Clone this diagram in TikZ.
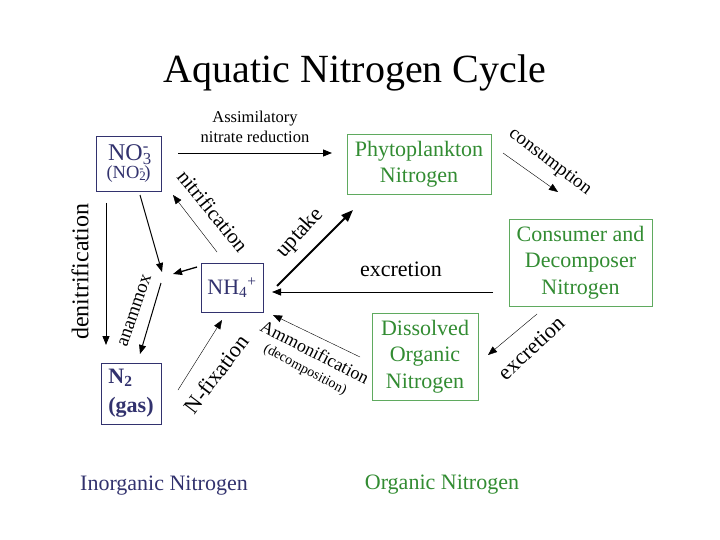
\documentclass[tikz,border=0pt]{standalone}
\usepackage{fontspec}
\setmainfont{Liberation Serif}
\usetikzlibrary{arrows.meta}
\definecolor{navy}{RGB}{50,50,110}
\definecolor{grtext}{RGB}{50,140,50}
\definecolor{grline}{RGB}{95,170,95}
\newcommand{\fsz}[2]{\fontsize{#1}{#2}\selectfont}
\begin{document}
\begin{tikzpicture}[x=1pt,y=-1pt,
  inbox/.style={draw=navy, line width=0.8pt, text=navy, inner sep=0pt, align=center},
  orgbox/.style={draw=grline, line width=0.8pt, text=grtext, inner sep=0pt, align=center, font=\fsz{22}{26.5}},
  flow/.style={-{Triangle[length=9pt,width=7pt]}, line width=0.8pt},
  thinflow/.style={-{Triangle[length=9pt,width=7pt]}, line width=0.4pt},
  lbl/.style={inner sep=0pt, font=\fsz{22}{26}}
]
\useasboundingbox[fill=white] (0,0) rectangle (720,540);

% title
\node[anchor=base, inner sep=0pt, font=\fsz{40}{44}] (title) at (355,83) {Aquatic Nitrogen Cycle};

% boxes
\node[inbox, minimum width=65pt, minimum height=55pt] (no3) at (128.5,163.5)
  {{\fsz{24}{23}NO\rlap{\textsubscript{3}}\textsuperscript{-}\hspace{3pt}}\\{\fsz{18.5}{20}(NO\rlap{\textsubscript{2}}\textsuperscript{-})\hspace{3pt}}};
\node[inbox, minimum width=62pt, minimum height=49pt, font=\fsz{22}{26}] (nh4) at (232,287.5)
  {NH\textsubscript{4}\textsuperscript{+}};
\node[inbox, minimum width=60pt, minimum height=61pt, align=left, font=\fsz{22}{29}\bfseries] (n2) at (131,393.5)
  {N\textsubscript{2}\\(gas)};
\node[orgbox, minimum width=144pt, minimum height=60pt] (phy) at (419,164) {Phytoplankton\\Nitrogen};
\node[orgbox, minimum width=143pt, minimum height=87pt] (cons) at (580.5,262.5) {Consumer and\\Decomposer\\Nitrogen};
\node[orgbox, minimum width=106pt, minimum height=87pt] (don) at (425,356.5) {Dissolved\\Organic\\Nitrogen};

% connector end points
\coordinate (as1) at (178,153);  \coordinate (as2) at (332,153);
\coordinate (co1) at (503,153);  \coordinate (co2) at (558,192);
\coordinate (up1) at (277,286);  \coordinate (up2) at (353,210);
\coordinate (ni1) at (217,252);  \coordinate (ni2) at (173,195);
\coordinate (nj1) at (140,195);  \coordinate (nj2) at (162,272);
\coordinate (hj1) at (197,267);  \coordinate (hj2) at (173,274);
\coordinate (am1) at (161,283);  \coordinate (am2) at (140,354);
\coordinate (de1) at (106,203);  \coordinate (de2) at (106,345);
\coordinate (nf1) at (178,390);  \coordinate (nf2) at (222,320);
\coordinate (ao1) at (360,357);  \coordinate (ao2) at (273,315);
\coordinate (ex1) at (493,292);  \coordinate (ex2) at (272,292);
\coordinate (ed1) at (537,314);  \coordinate (ed2) at (488,355);

% connectors
\draw[flow] (as1) -- (as2);
\draw[thinflow] (co1) -- (co2);
\draw[-{Triangle[length=12pt,width=9pt]}, line width=2pt] (up1) -- (up2);
\draw[thinflow] (ni1) -- (ni2);
\draw[flow, line width=1pt] (nj1) -- (nj2);
\draw[flow, line width=1.3pt] (hj1) -- (hj2);
\draw[flow, line width=1pt] (am1) -- (am2);
\draw[flow] (de1) -- (de2);
\draw[thinflow] (nf1) -- (nf2);
\draw[thinflow] (ao1) -- (ao2);
\draw[flow] (ex1) -- (ex2);
\draw[thinflow] (ed1) -- (ed2);

% labels
\node[inner sep=0pt, align=center, font=\fsz{16.5}{20}] (assim) at (255,127) {Assimilatory\\nitrate reduction};
\node[lbl, font=\fsz{19}{22}, rotate=-37] (lcons) at (550,162) {consumption};
\node[lbl, rotate=48] (lupt) at (300,233) {uptake};
\node[lbl, font=\fsz{21}{24}, rotate=-51] (lnit) at (213,211) {nitrification};
\node[lbl, font=\fsz{24}{28}, rotate=90] (lden) at (80,272) {denitrification};
\node[lbl, font=\fsz{19}{22}, rotate=71] (lanam) at (135,311) {anammox};
\node[lbl, rotate=53] (lnfix) at (216,374) {N-fixation};
\node[lbl, font=\fsz{18}{21}, rotate=-27] (lammo) at (315,352) {Ammonification};
\node[lbl, font=\fsz{14}{17}, rotate=-28] (ldec) at (305,370) {(decomposition)};
\node[lbl] (lexc) at (401,269) {excretion};
\node[lbl, rotate=43] (lexc2) at (531,348) {excretion};

\node[lbl, text=navy] (linorg) at (164,486) {Inorganic Nitrogen};
\node[lbl, text=grtext] (lorg) at (442,485) {Organic Nitrogen};
\end{tikzpicture}
\end{document}
